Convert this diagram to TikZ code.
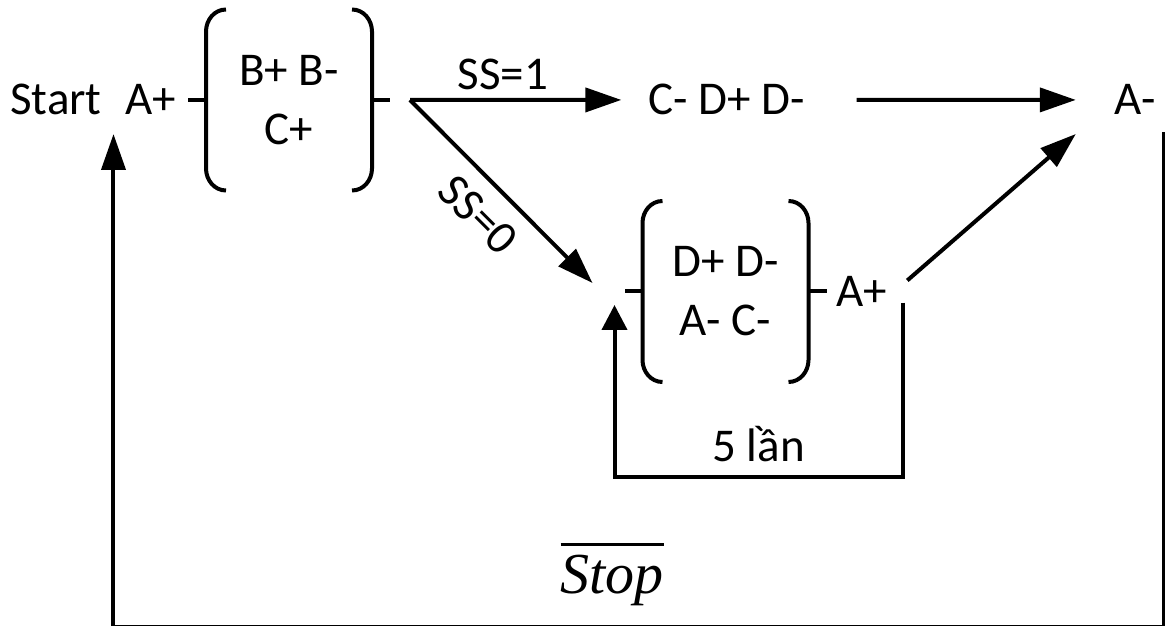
\documentclass[tikz,border=0pt]{standalone}
\usepackage{fontspec}
\setmainfont{Carlito}
\newfontfamily\stopfont{Liberation Serif}
\usetikzlibrary{arrows.meta,positioning,calc}

\tikzset{
  arr/.style={-{Triangle[length=36pt,width=24pt]}},
  arrsmall/.style={-{Triangle[length=25pt,width=25pt]}},
  grp/.style={minimum width=162pt,minimum height=177pt,align=center},
}
\newcommand{\seqparens}[1]{%
  \draw ([xshift=20pt]#1.north west) to[out=180,in=90] ([yshift=-22pt]#1.north west) -- ([yshift=22pt]#1.south west) to[out=-90,in=180] ([xshift=20pt]#1.south west);
  \draw ([xshift=-20pt]#1.north east) to[out=0,in=90] ([yshift=-22pt]#1.north east) -- ([yshift=22pt]#1.south east) to[out=-90,in=0] ([xshift=-20pt]#1.south east);
  \draw (#1.west) -- ++(-18pt,0);
  \draw (#1.east) -- ++(18pt,0);
}

\begin{document}
\begin{tikzpicture}[x=1pt,y=1pt,line width=4pt,inner sep=0pt,font=\fontsize{47}{59}\selectfont]
\useasboundingbox (0,0) rectangle (1165,626);
\node[anchor=base] (start) at (56,511) {Start};
\node[anchor=base] (aup) at (151,511) {A+};
\node[grp] (upgrp) at (289,526) {B+ B-\\C+};
\seqparens{upgrp}
\coordinate[right=38pt of upgrp] (fork);
\node[anchor=base] (cdd) at (727,511) {C- D+ D-};
\node[anchor=base] (am) at (1135,511) {A-};
\node[grp] (lowgrp) at (725.5,334.5) {D+ D-\\A- C-};
\seqparens{lowgrp}
\node[anchor=base] (lap) at (862,319) {A+};
% arrow ends
\coordinate (ss0end) at ([xshift=-50pt,yshift=8.5pt]lowgrp.west);
\coordinate (diagA) at ([xshift=18pt,yshift=-5.6pt]lap.north east);
\coordinate (diagB) at ([xshift=-36.6pt,yshift=-17pt]am.south west);
\coordinate (loopR) at ([xshift=13.2pt,yshift=-10.8pt]lap.east);
\coordinate (loopL) at ([xshift=-28pt,yshift=-13.5pt]lowgrp.west);
\coordinate (bigR) at ([xshift=6.6pt,yshift=-15pt]am.south east);
\coordinate (bigL) at ([xshift=-10.2pt,yshift=-17pt]aup.south west);
% connectors
\draw[arr,shorten >=25.5pt] (fork) -- node[pos=0.392,anchor=base,yshift=10pt] (ss1) {SS=1} (cdd);
\draw[arr,shorten <=49.5pt,shorten >=36.6pt] (cdd.east) -- (am.west);
\draw[arr] (fork) -- node[sloped,midway,below,inner sep=15pt] (ss0) {SS=0} (ss0end);
\draw[arr] (diagA) -- (diagB);
\draw[arrsmall] (loopR) -- ++(0,-174pt) -| node[pos=0.25,anchor=base,yshift=15pt] (times) {5 lần} (loopL);
\draw[arr] (bigR) -- ++(0,-495pt) -| node[pos=0.2627,anchor=base,yshift=33pt,font=\fontsize{58}{70}\selectfont\stopfont\itshape] (stop) {\vbox{\hrule height 3pt\kern 10pt\hbox{Stop}}} (bigL);
\end{tikzpicture}
\end{document}
